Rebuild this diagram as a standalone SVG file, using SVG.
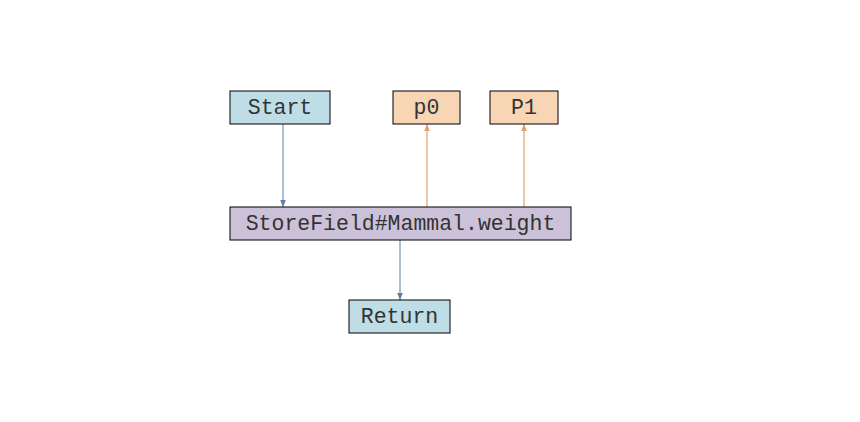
<svg xmlns="http://www.w3.org/2000/svg" width="860" height="422" viewBox="0 0 860 422">
<defs>
<style>
.box{stroke:#000;stroke-width:1}
.blue{fill:#BEDDE6}
.peach{fill:#F7D5B5}
.lav{fill:#CBC2D9}
text{font-family:"Courier New","Liberation Mono",monospace;font-size:21.5px;fill:#333;text-anchor:middle;dominant-baseline:central}
.eb{stroke:#5B7FA6;stroke-width:1;fill:none}
.eo{stroke:#E0A070;stroke-width:1.2;fill:none}
</style>
<marker id="ab" viewBox="0 0 10 10" refX="10" refY="5" markerWidth="7" markerHeight="7" markerUnits="userSpaceOnUse" orient="auto"><path d="M0,1 L10,5 L0,9 z" fill="#5B7FA6"/></marker>
<marker id="ao" viewBox="0 0 10 10" refX="10" refY="5" markerWidth="7" markerHeight="7" markerUnits="userSpaceOnUse" orient="auto"><path d="M0,1 L10,5 L0,9 z" fill="#E0A070"/></marker>
</defs>
<rect width="860" height="422" fill="#fff"/>
<g id="connectors">
<line class="eb" x1="283" y1="124" x2="283" y2="207" marker-end="url(#ab)"/>
<line class="eb" x1="400" y1="240" x2="400" y2="300" marker-end="url(#ab)"/>
<line class="eo" x1="427" y1="207" x2="427" y2="124" marker-end="url(#ao)"/>
<line class="eo" x1="524" y1="207" x2="524" y2="124" marker-end="url(#ao)"/>
</g>
<g id="start"><rect class="box blue" x="230" y="91" width="100" height="33"/><text x="280" y="107.5">Start</text></g>
<g id="p0"><rect class="box peach" x="393" y="91" width="67" height="33"/><text x="426.5" y="107.5">p0</text></g>
<g id="p1"><rect class="box peach" x="490" y="91" width="68" height="33"/><text x="524" y="107.5">P1</text></g>
<g id="storefield"><rect class="box lav" x="230" y="207" width="341" height="33"/><text x="400.5" y="223.5">StoreField#Mammal.weight</text></g>
<g id="return"><rect class="box blue" x="349" y="300" width="101" height="33"/><text x="399.5" y="316.5">Return</text></g>
</svg>
